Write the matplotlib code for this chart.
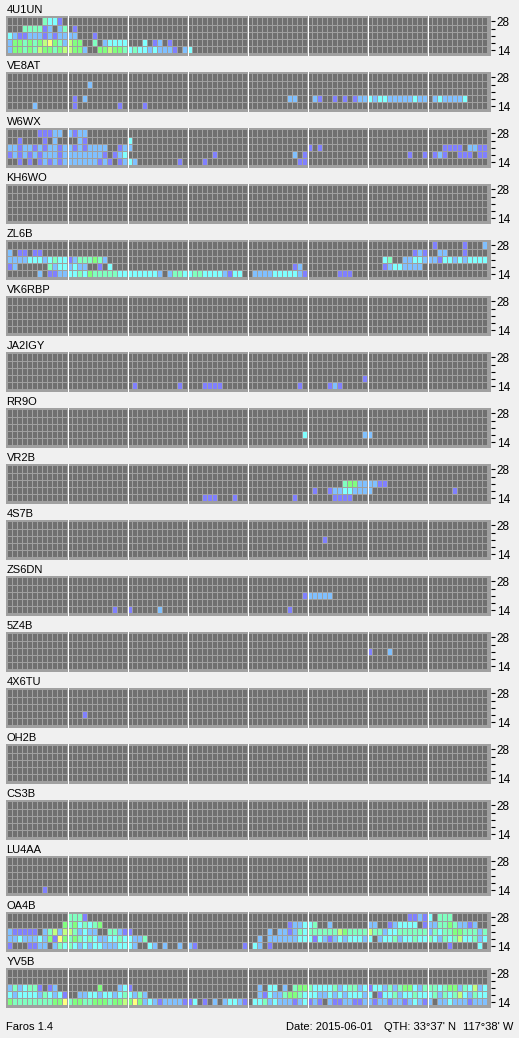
import numpy as np
import matplotlib
matplotlib.use("Agg")
import matplotlib.pyplot as plt

plt.rcParams['font.family'] = ['Liberation Sans', 'DejaVu Sans']

W, H = 519, 1038          # output size, pixels
N_SLOTS = 96              # 15 minute slots over 24 h
HOUR_MARKS = [12, 24, 36, 48, 60, 72, 84]   # every 3 hours
BANDS = [28, 24, 21, 18, 14]                # MHz, top row first
BAND_LABELS = ['28', '', '', '', '14']
FS = 8

# signal level -> colour ('.' = no signal heard)
LEVEL_COLORS = {
    '.': '#707070',
    '1': '#8080ff',
    '2': '#80c0ff',
    '3': '#80ffff',
    '4': '#80ffc0',
    '5': '#80ff80',
    '6': '#c0ff80',
    '7': '#ffff80',
}

# one string per band (28, 24, 21, 18, 14), groups of 12 slots = 3 h
b_4U1UN = [
    ".......4331.",
    "...444412.24 .1..........",
    "321122212122 22...1......",
    "255454567542 655..4.23333 ...3.12.1...",
    "255454655456 6552..556554 3433232221.2 3...........",
]
b_VE8AT = [
    "",
    "............ ....2.......",
    "",
    "............ .1.2........ ............ ............ ........22.. .21..1.1.122 323322222322 .2322223....",
    ".....2...... .1........1. ...1........",
]
b_W6WX = [
    "......11122. 2122........",
    "..1....1.2.. ..21........ 3...........",
    "221221212212 21212222..12 2........... ............ ............ 1.1......... ............ ...1111.2211",
    "121212122212 22222221.123 ............ .....1...... .........2.1 ............ ........1..1 .121..111.11",
    "..1.1.121212 222222121.12 32........1. ...1........ ..........11",
]
b_KH6WO = ["", "", "", "", ""]
b_ZL6B = [
    "............ ............ ............ ............ ............ ............ ............ .1.....1...2",
    "2.11.11..... ............ ............ ............ ............ ............ .........121 ..22...1....",
    "222233323433 12444542.... ............ ............ ............ ............ ...34..22332 221332323333",
    "12......4233 2322..1.3... ............ ............ .........12. ............ ...12332222.",
    "......2.1122 334354444433 3333332.2443 34433332133. .22223333321 ......111...",
]
b_VK6RBP = ["", "", "", "", ""]
b_JA2IGY = [
    "", "", "",
    "............ ............ ............ ............ ............ ...........1",
    "............ ............ .1........1. ...1111..... ..........1. ....121.....",
]
b_RR9O = [
    "", "", "",
    "............ ............ ............ ............ ...........3 ...........2 2...........",
    "",
]
b_VR2B = [
    "", "",
    "............ ............ ............ ............ ............ .......45522 2211........",
    "............ ............ ............ ............ ............ .1..12233222 2........... .....1......",
    "............ ............ ............ ...111...1.. .........1.. .....1111...",
]
b_4S7B = [
    "", "",
    "............ ............ ............ ............ ............ ...1........",
    "", "",
]
b_ZS6DN = [
    "", "",
    "............ ............ ............ ............ ...........1 22222.......",
    "",
    "............ .........1.. 1.....2..... ............ ........1...",
]
b_5Z4B = [
    "", "",
    "............ ............ ............ ............ ............ ............ 1...2.......",
    "", "",
]
b_4X6TU = ["", "", "", "............ ...1........", ""]
b_OH2B = ["", "", "", "", ""]
b_CS3B = ["", "", "", "", ""]
b_LU4AA = ["", "", "", "", ".......1...."]
b_OA4B = [
    "............ 4441........ ............ ............ ............ ............ ........1121 3.444.......",
    "...........5 4534345..... ............ ............ ........1223 34..2....... 22..123333.1 2244542212..",
    "211111.24626 642322..4421 1........... ............ ....2.221243 444444654444 644233444444 243445544424",
    "223222325175 454343223343 3224........ ............ ..2.22222233 313212323332 3.2334233433 432434633423",
    "1...1122.243 432323322233 32..32.2..2. 21.........1 .32.1....... ............ ............ ....1.....3.",
]
b_YV5B = [
    "", "",
    "2423441.12.. ......5...23 1........... ............ ..2.33.2.455 433334234423 133242455324 443455243623",
    "323333243231 ..2233233234 3242........ ............ ..2132245543 332232323332 3.1334233433 342434632433",
    "544444444557 455445554556 575232122221 13.1.2.23321 .33423222123 121.21122112 212212212321 2.2232221222",
]

beacons = [
    ("4U1UN", b_4U1UN), ("VE8AT", b_VE8AT), ("W6WX", b_W6WX), ("KH6WO", b_KH6WO),
    ("ZL6B", b_ZL6B), ("VK6RBP", b_VK6RBP), ("JA2IGY", b_JA2IGY), ("RR9O", b_RR9O),
    ("VR2B", b_VR2B), ("4S7B", b_4S7B), ("ZS6DN", b_ZS6DN), ("5Z4B", b_5Z4B),
    ("4X6TU", b_4X6TU), ("OH2B", b_OH2B), ("CS3B", b_CS3B), ("LU4AA", b_LU4AA),
    ("OA4B", b_OA4B), ("YV5B", b_YV5B),
]


def parse_row(s):
    s = s.replace(" ", "")
    assert len(s) <= N_SLOTS
    return s.ljust(N_SLOTS, ".")


fig = plt.figure(figsize=(W / 100, H / 100), dpi=100, facecolor='#f0f0f0')
slots = np.arange(N_SLOTS)

for k, (name, rows) in enumerate(beacons):
    top = 16 + 56 * k
    ax = fig.add_axes([6 / W, 1 - (top + 40) / H, 485 / W, 40 / H])
    ax.set_facecolor('#a0a0a0')
    for j, s in enumerate(rows):
        y = len(BANDS) - 1 - j
        colors = [LEVEL_COLORS[c] for c in parse_row(s)]
        ax.bar(slots + 0.2, 0.86, width=0.8, bottom=y + 0.07, align='edge',
               color=colors, linewidth=0)
    for m in HOUR_MARKS:
        ax.axvline(m + 0.1, color='white', lw=0.72)
    ax.set_xlim(-0.2, 96.8)
    ax.set_ylim(-0.3, 5.25)
    ax.set_xticks([])
    ax.yaxis.tick_right()
    ax.set_yticks(np.arange(len(BANDS)) + 0.5)
    ax.set_yticklabels(BAND_LABELS[::-1])
    ax.tick_params(axis='y', length=3.2, width=0.8, pad=1, labelsize=FS + 0.5,
                   colors='black')
    for sp in ax.spines.values():
        sp.set_visible(False)
    ax.annotate(name, (0, 1), xycoords='axes fraction', xytext=(0.5, 3),
                textcoords='offset pixels', va='baseline', fontsize=FS)

base = 1 - 1030 / H
fig.text(6 / W, base, "Faros 1.4", va='baseline', fontsize=FS)
fig.text(373 / W, base, "Date: 2015-06-01", va='baseline', ha='right', fontsize=FS)
fig.text(456 / W, base, "QTH: 33°37' N", va='baseline', ha='right', fontsize=FS)
fig.text(513 / W, base, "117°38' W", va='baseline', ha='right', fontsize=FS)

fig.savefig("out.png", dpi=100, facecolor=fig.get_facecolor())
